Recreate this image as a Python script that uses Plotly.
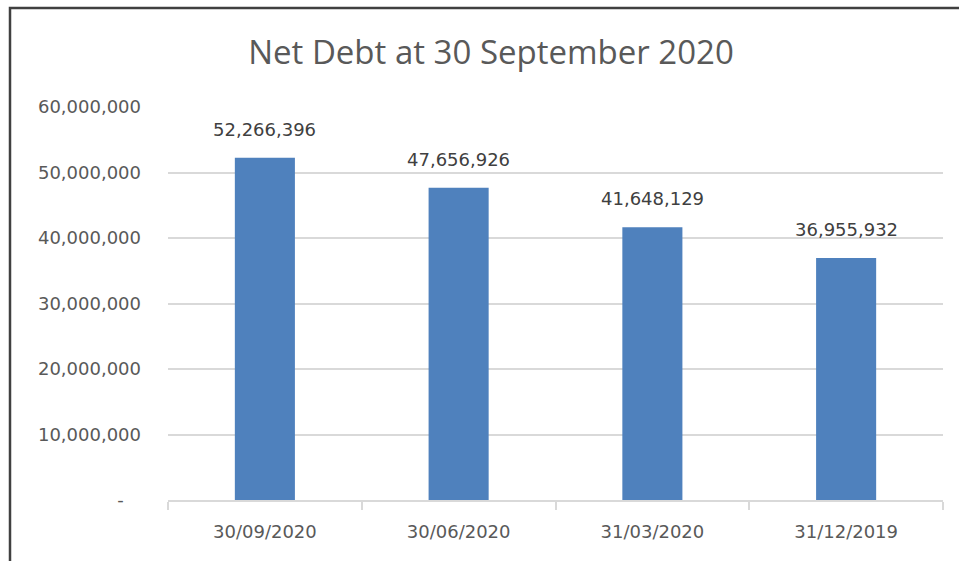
import plotly.graph_objects as go

categories = ["30/09/2020", "30/06/2020", "31/03/2020", "31/12/2019"]
net_debt = [52266396, 47656926, 41648129, 36955932]
y_tick_vals = [0, 10000000, 20000000, 30000000, 40000000, 50000000, 60000000]
y_tick_text = ["-\u00a0\u00a0\u00a0", "10,000,000", "20,000,000", "30,000,000",
               "40,000,000", "50,000,000", "60,000,000"]
title_text = "Net Debt at 30 September 2020"

W, H = 959, 561
L, R, T, B = 168, 16, 107, 61
pw, ph = W - L - R, H - T - B

def px_x(p):
    return (p - L) / pw

def px_y(p):
    return (H - B - p) / ph

FONT = "DejaVu Sans"
TXT = "#595959"

fig = go.Figure()
fig.add_trace(go.Bar(
    x=categories, y=net_debt,
    marker=dict(color="#4F81BD", line=dict(width=0)),
    width=0.31,
    hoverinfo="skip",
))

for c, v in zip(categories, net_debt):
    fig.add_annotation(x=c, y=v, text=f"{v:,}", showarrow=False,
                       yanchor="bottom", yshift=16,
                       font=dict(family=FONT, size=18, color="#404040"))

fig.update_layout(
    width=W, height=H,
    margin=dict(l=L, r=R, t=T, b=B, pad=0),
    paper_bgcolor="white", plot_bgcolor="white",
    showlegend=False,
    title=dict(text=title_text, xref="container", x=491 / W, xanchor="center",
               yref="container", y=1 - 52 / H, yanchor="middle",
               font=dict(family="Open Sans", size=33, color=TXT)),
    xaxis=dict(
        type="category",
        tickson="boundaries",
        ticks="outside", ticklen=8, tickcolor="#d9d9d9", tickwidth=1.5,
        showline=True, linecolor="#d9d9d9", linewidth=1.5,
        showgrid=False,
        ticklabelstandoff=15,
        tickfont=dict(family=FONT, size=18, color=TXT),
    ),
    yaxis=dict(
        range=[0, 60000000],
        tickvals=y_tick_vals, ticktext=y_tick_text,
        showgrid=True, gridcolor="#d9d9d9", gridwidth=1.5,
        zeroline=False, showline=False,
        ticks="", ticklabelstandoff=26,
        tickfont=dict(family=FONT, size=18, color=TXT),
    ),
    shapes=[dict(type="rect", xref="paper", yref="paper",
                 x0=px_x(10), x1=px_x(990), y0=px_y(600), y1=px_y(8),
                 line=dict(color="#404040", width=2.5),
                 fillcolor="rgba(0,0,0,0)", layer="above")],
)

fig.write_html("out.html")
